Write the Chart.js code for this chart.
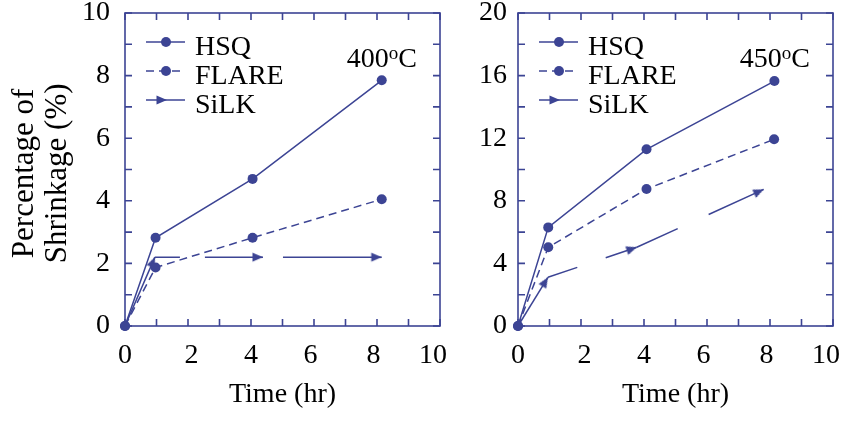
<!DOCTYPE html>
<html>
<head>
<meta charset="utf-8">
<script src="https://cdn.jsdelivr.net/npm/chart.js@4.4.0/dist/chart.umd.min.js"></script>
<style>
    body { margin: 0; background: #fff; width: 844px; height: 428px; position: relative; overflow: hidden; }
    canvas { position: absolute; top: 0; }
</style>
</head>
<body>
<canvas id="chart400" width="460" height="428" style="left:0px"></canvas>
<canvas id="chart450" width="414" height="428" style="left:430px"></canvas>
<script>
// values (time in hr, shrinkage in %)
const hsqTime400 = [0, 0.97, 4.05, 8.15];
const hsq400 = [0, 2.82, 4.70, 7.85];
const flareTime400 = [0, 0.97, 4.05, 8.15];
const flare400 = [0, 1.87, 2.82, 4.05];
const silkTime400 = [0, 0.95, 4.38, 8.15];
const silk400 = [0, 2.2, 2.2, 2.2];

const hsqTime450 = [0, 0.96, 4.08, 8.14];
const hsq450 = [0, 6.3, 11.29, 15.65];
const flareTime450 = [0, 0.96, 4.08, 8.13];
const flare450 = [0, 5.03, 8.75, 11.93];
const silkTime450 = [0, 0.95, 3.77, 7.8];
const silk450 = [0, 3.11, 5.03, 8.73];

const xTickLabels = [0, 2, 4, 6, 8, 10];
const yTickLabels400 = [0, 2, 4, 6, 8, 10];
const yTickLabels450 = [0, 4, 8, 12, 16, 20];
const seriesNames = ['HSQ', 'FLARE', 'SiLK'];

const navy = '#3c4494';
const serif = "'Liberation Serif', 'Times New Roman', serif";
Chart.defaults.font.family = serif;
Chart.defaults.color = '#000';

function pairs(xs, ys) {
    return xs.map((x, i) => ({ x: x, y: ys[i] }));
}

// the original x labels sit a little inward near the ends; pad with spaces to nudge them
function xLabel(v) {
    if (!xTickLabels.includes(v)) return '';
    if (v === 2) return ' 2';
    if (v > 4) return v + (v === 10 ? '  ' : ' ');
    return String(v);
}

// arrow head with its tip in the middle of the image, pointing right
function makeArrow() {
    const c = document.createElement('canvas');
    c.width = 24;
    c.height = 12;
    const g = c.getContext('2d');
    g.fillStyle = navy;
    g.beginPath();
    g.moveTo(12, 6);
    g.lineTo(1.5, 1.5);
    g.lineTo(1.5, 10.5);
    g.closePath();
    g.fill();
    return c;
}
const arrow = makeArrow();

function arrowAngle(ctx) {
    const i = ctx.dataIndex;
    if (i === 0) return 0;
    const pts = ctx.dataset.data;
    const xs = ctx.chart.scales.x, ys = ctx.chart.scales.y;
    const dx = xs.getPixelForValue(pts[i].x) - xs.getPixelForValue(pts[i - 1].x);
    const dy = ys.getPixelForValue(pts[i].y) - ys.getPixelForValue(pts[i - 1].y);
    return Math.atan2(dy, dx) * 180 / Math.PI;
}

// frame and inward ticks on all four sides
const frameTicks = {
    id: 'frameTicks',
    beforeDatasetsDraw(chart) {
        const { ctx, chartArea: a, scales } = chart;
        ctx.save();
        ctx.strokeStyle = navy;
        ctx.lineWidth = 1.6;
        ctx.strokeRect(a.left, a.top, a.right - a.left, a.bottom - a.top);
        ctx.beginPath();
        scales.x.ticks.forEach(t => {
            const px = scales.x.getPixelForValue(t.value);
            ctx.moveTo(px, a.bottom); ctx.lineTo(px, a.bottom - 7);
            ctx.moveTo(px, a.top); ctx.lineTo(px, a.top + 7);
        });
        scales.y.ticks.forEach(t => {
            const py = scales.y.getPixelForValue(t.value);
            ctx.moveTo(a.left, py); ctx.lineTo(a.left + 7, py);
            ctx.moveTo(a.right, py); ctx.lineTo(a.right - 7, py);
        });
        ctx.stroke();
        ctx.restore();
    }
};

// legend box and temperature label inside the plot
const insideText = {
    id: 'insideText',
    afterDraw(chart, args, opts) {
        const { ctx, chartArea: a } = chart;
        ctx.save();
        ctx.strokeStyle = navy;
        ctx.fillStyle = navy;
        ctx.lineWidth = 1.5;
        seriesNames.forEach((name, i) => {
            const y = a.top + 29 + i * 29;
            const x0 = a.left + 21;
            ctx.setLineDash(i === 1 ? [8, 5] : []);
            ctx.beginPath();
            ctx.moveTo(x0, y);
            ctx.lineTo(x0 + 39, y);
            ctx.stroke();
            ctx.setLineDash([]);
            if (i < 2) {
                ctx.beginPath();
                ctx.arc(x0 + 20, y, 5, 0, Math.PI * 2);
                ctx.fill();
            } else {
                ctx.drawImage(arrow, x0 + 21 - 12, y - 6);
            }
            ctx.fillStyle = '#000';
            ctx.font = '28px ' + serif;
            ctx.textAlign = 'left';
            ctx.textBaseline = 'alphabetic';
            ctx.fillText(name, x0 + 49, y + 13);
            ctx.fillStyle = navy;
        });

        // e.g. 400oC with a raised small o
        ctx.fillStyle = '#000';
        ctx.textBaseline = 'alphabetic';
        const big = '28px ' + serif, small = '19px ' + serif;
        const right = a.right - 23, base = a.top + 54;
        ctx.font = big;
        const wC = ctx.measureText('C').width;
        const wNum = ctx.measureText(opts.temp).width;
        ctx.font = small;
        const wO = ctx.measureText('o').width;
        let x = right - wC - wO - wNum;
        ctx.font = big;
        ctx.fillText(opts.temp, x, base);
        ctx.font = small;
        ctx.fillText('o', x + wNum, base - 8);
        ctx.font = big;
        ctx.fillText('C', x + wNum + wO, base);
        ctx.restore();
    }
};

function makeChart(id, cfg) {
    return new Chart(document.getElementById(id), {
        type: 'line',
        data: {
            datasets: [
                {
                    label: 'HSQ',
                    data: pairs(cfg.hsqTime, cfg.hsq),
                    borderColor: navy,
                    backgroundColor: navy,
                    borderWidth: 1.5,
                    pointRadius: 5,
                    pointBorderWidth: 0,
                    clip: false
                },
                {
                    label: 'FLARE',
                    data: pairs(cfg.flareTime, cfg.flare),
                    borderColor: navy,
                    backgroundColor: navy,
                    borderWidth: 1.5,
                    borderDash: [8, 5],
                    pointRadius: 5,
                    pointBorderWidth: 0,
                    clip: false
                },
                {
                    label: 'SiLK',
                    data: pairs(cfg.silkTime, cfg.silk),
                    borderColor: navy,
                    backgroundColor: navy,
                    borderWidth: 1.5,
                    pointStyle: ctx => ctx.dataIndex === 0 ? false : arrow,
                    pointRadius: ctx => ctx.dataIndex === 0 ? 0 : 5,
                    rotation: arrowAngle,
                    segment: {
                        borderDash: ctx => cfg.silkDash[ctx.p0DataIndex]
                    },
                    clip: false
                }
            ]
        },
        options: {
            responsive: false,
            animation: false,
            events: [],
            layout: { padding: { left: 0, top: 13, right: cfg.padRight, bottom: 0 } },
            plugins: {
                legend: { display: false },
                tooltip: { enabled: false },
                insideText: { temp: cfg.temp }
            },
            scales: {
                x: {
                    type: 'linear',
                    min: 0,
                    max: 10,
                    grid: { display: false, drawTicks: false },
                    border: { display: false },
                    ticks: {
                        stepSize: 1,
                        autoSkip: false,
                        maxRotation: 0,
                        padding: 13,
                        font: { size: 28 },
                        callback: xLabel
                    },
                    title: {
                        display: true,
                        text: 'Time (hr)',
                        font: { size: 28 },
                        padding: { top: 0, bottom: 17 }
                    },
                    afterFit: s => {
                        s.height = 102;
                        s.paddingLeft = 0;
                        s.paddingRight = 0;
                    }
                },
                y: {
                    min: 0,
                    max: cfg.yMax,
                    grid: { display: false, drawTicks: false },
                    border: { display: false },
                    ticks: {
                        stepSize: cfg.yStep,
                        autoSkip: false,
                        padding: cfg.yPad,
                        font: { size: 28 },
                        callback: v => cfg.yLabels.includes(v) ? String(v) : ''
                    },
                    title: {
                        display: cfg.yTitle,
                        text: ['Percentage of ', 'Shrinkage (%) '],
                        font: { size: 31, lineHeight: 1.065 },
                        padding: { top: 8, bottom: 0 }
                    },
                    afterFit: s => {
                        s.width = cfg.yWidth;
                        s.paddingTop = 0;
                        s.paddingBottom = 0;
                    }
                }
            }
        },
        plugins: [frameTicks, insideText]
    });
}

var chart400 = makeChart('chart400', {
    hsqTime: hsqTime400, hsq: hsq400,
    flareTime: flareTime400, flare: flare400,
    silkTime: silkTime400, silk: silk400,
    silkDash: [[], [25, 25, 300, 0], [0, 20, 300, 0]],
    yMax: 10, yStep: 1, yLabels: yTickLabels400,
    yPad: 15, yWidth: 125, padRight: 20, yTitle: true,
    temp: '400'
});

var chart450 = makeChart('chart450', {
    hsqTime: hsqTime450, hsq: hsq450,
    flareTime: flareTime450, flare: flare450,
    silkTime: silkTime450, silk: silk450,
    silkDash: [[], [31, 30, 300, 0], [45, 34, 300, 0]],
    yMax: 20, yStep: 2, yLabels: yTickLabels450,
    yPad: 11, yWidth: 88, padRight: 11, yTitle: false,
    temp: '450'
});
</script>
</body>
</html>
